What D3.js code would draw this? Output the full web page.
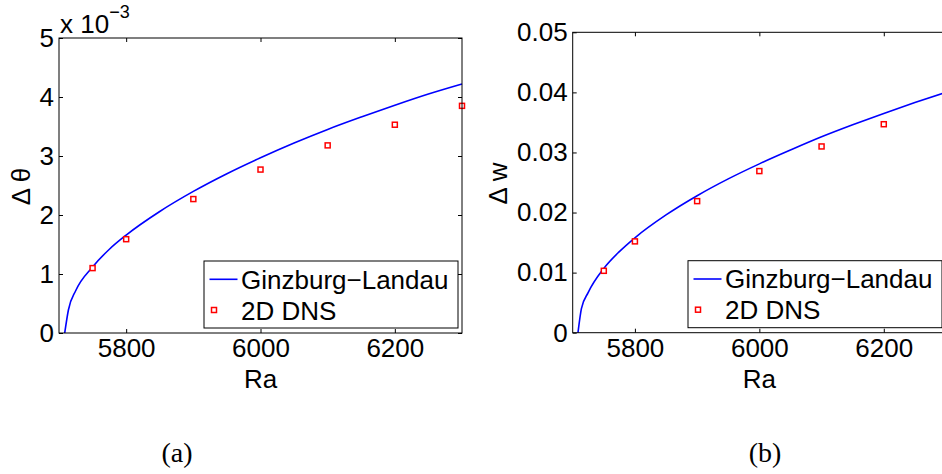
<!DOCTYPE html>
<meta charset="utf-8">
<style>
body { margin: 0; background: #fff; }
svg text { font-family: "Liberation Sans", Arial, sans-serif; fill: #000; }
.tick line { stroke: #000; }
.caption { font-family: "Liberation Serif", "DejaVu Serif", serif; }
</style>
<svg id="chart"></svg>
<script src="https://d3js.org/d3.v7.min.js"></script>
<script>

// Ginzburg-Landau curve
var raCurve = [5708.5, 5714, 5725, 5750, 5775, 5800, 5850, 5900, 5950, 6000, 6050, 6100, 6150, 6200, 6250, 6300];
var thetaGL = [0, 0.00039, 0.00072, 0.00112, 0.00142, 0.00166, 0.00206, 0.00240, 0.00270, 0.00297, 0.00322, 0.00345, 0.00366, 0.00386, 0.00405, 0.00422];
var wGL = [0, 0.0040, 0.0067, 0.0107, 0.0135, 0.0158, 0.0196, 0.0228, 0.0256, 0.0281, 0.0304, 0.0326, 0.0346, 0.0365, 0.0383, 0.0400];

// 2D DNS points
var raDNS = [5750, 5800, 5900, 6000, 6100, 6200, 6300];
var thetaDNS = [0.00110, 0.00159, 0.00227, 0.00277, 0.00318, 0.00353, 0.00385];
var wDNS = [0.0103, 0.0152, 0.0219, 0.0269, 0.0310, 0.0347, 0.0380];

var xTicks = [5800, 6000, 6200];
var thetaTicks = [0, 0.001, 0.002, 0.003, 0.004, 0.005];
var wTicks = [0, 0.01, 0.02, 0.03, 0.04, 0.05];
var legendLabels = ["Ginzburg\u2212Landau", "2D DNS"];

var width = 942, height = 474;
var svg = d3.select("#chart").attr("width", width).attr("height", height);
svg.append("rect").attr("width", width).attr("height", height).attr("fill", "#fff");

function panel(opt) {
  var x = d3.scaleLinear().domain([5700, 6300]).range([opt.left, opt.right]);
  var y = d3.scaleLinear().domain(opt.ydomain).range([opt.bottom, opt.top]);
  var g = svg.append("g");

  // curve
  var line = d3.line()
    .x(function(d) { return x(d[0]); })
    .y(function(d) { return y(d[1]); })
    .curve(d3.curveMonotoneX);
  g.append("path")
    .datum(d3.zip(raCurve, opt.curve))
    .attr("d", line)
    .attr("fill", "none")
    .attr("stroke", "#0000ff")
    .attr("stroke-width", 1.6);

  // markers
  g.selectAll(".pt")
    .data(d3.zip(raDNS, opt.dns))
    .enter().append("rect")
    .attr("class", "pt")
    .attr("x", function(d) { return x(d[0]) - 2.5; })
    .attr("y", function(d) { return y(d[1]) - 2.5; })
    .attr("width", 5).attr("height", 5)
    .attr("fill", "#fff")
    .attr("stroke", "#ff0000")
    .attr("stroke-width", 1.5);

  // axes, ticks inward on all sides
  var ax = g.append("g").attr("transform", "translate(0," + opt.bottom + ")")
    .call(d3.axisBottom(x).tickValues(xTicks).tickSizeInner(-4).tickSizeOuter(0).tickPadding(6).tickFormat(d3.format("d")));
  var axTop = g.append("g").attr("transform", "translate(0," + opt.top + ")")
    .call(d3.axisTop(x).tickValues(xTicks).tickSizeInner(-4).tickSizeOuter(0).tickFormat(""));
  var ay = g.append("g").attr("transform", "translate(" + opt.left + ",0)")
    .call(d3.axisLeft(y).tickValues(opt.yticks).tickSizeInner(-4).tickSizeOuter(0).tickPadding(5).tickFormat(opt.fmt));
  var ayR = g.append("g").attr("transform", "translate(" + opt.right + ",0)")
    .call(d3.axisRight(y).tickValues(opt.yticks).tickSizeInner(-4).tickSizeOuter(0).tickFormat(""));
  [ax, axTop, ay, ayR].forEach(function(a) {
    a.select(".domain").remove();
    a.selectAll("text").attr("font-size", 26).attr("font-family", null);
  });

  g.append("rect")
    .attr("x", opt.left).attr("y", opt.top)
    .attr("width", opt.right - opt.left).attr("height", opt.bottom - opt.top)
    .attr("fill", "none").attr("stroke", "#000").attr("stroke-width", 1);

  // axis labels
  g.append("text")
    .attr("x", (opt.left + opt.right) / 2).attr("y", 388)
    .attr("text-anchor", "middle").attr("font-size", 26)
    .text("Ra");
  g.append("text")
    .attr("transform", "translate(" + opt.ylabX + "," + ((opt.top + opt.bottom) / 2 + 1) + ") rotate(-90)")
    .attr("text-anchor", "middle").attr("dy", "0.35em").attr("font-size", 26)
    .text(opt.ylabel);

  // legend
  var lx = opt.right - 258, ly = opt.bottom - 72;
  var lg = g.append("g").attr("transform", "translate(" + lx + "," + ly + ")");
  lg.append("rect").attr("width", 254).attr("height", 67)
    .attr("fill", "#fff").attr("stroke", "#000").attr("stroke-width", 1);
  lg.append("line").attr("x1", 5.5).attr("x2", 33.5).attr("y1", 18.3).attr("y2", 18.3)
    .attr("stroke", "#0000ff").attr("stroke-width", 1.6);
  lg.append("rect").attr("x", 7.5).attr("y", 46.5).attr("width", 5).attr("height", 5)
    .attr("fill", "#fff").attr("stroke", "#ff0000").attr("stroke-width", 1.5);
  lg.selectAll(".lt").data(legendLabels).enter().append("text")
    .attr("x", 37).attr("y", function(d, i) { return 27.5 + i * 31; })
    .attr("font-size", 26)
    .text(function(d) { return d; });

  // caption
  svg.append("text").attr("class", "caption")
    .attr("x", opt.capX).attr("y", 462)
    .attr("text-anchor", "middle").attr("font-size", 28)
    .text(opt.caption);
  return g;
}

panel({
  left: 59, right: 462, top: 38, bottom: 333,
  ydomain: [0, 0.005], yticks: thetaTicks,
  fmt: function(d) { return d3.format("d")(Math.round(d * 1000)); },
  curve: thetaGL, dns: thetaDNS,
  ylabel: "\u0394 \u03b8", ylabX: 20.5,
  caption: "(a)", capX: 177
});

// exponent label
var ex = svg.append("text").attr("x", 60).attr("y", 33).attr("font-size", 26);
ex.append("tspan").text("x 10");
ex.append("tspan").attr("font-size", 18).attr("dy", -15).text("\u22123");

panel({
  left: 572.7, right: 946, top: 32.3, bottom: 332.7,
  ydomain: [0, 0.05], yticks: wTicks,
  fmt: function(d) { return d === 0 ? "0" : d3.format(".2f")(d); },
  curve: wGL, dns: wDNS,
  ylabel: "\u0394 w", ylabX: 497.5,
  caption: "(b)", capX: 765
});

</script>
